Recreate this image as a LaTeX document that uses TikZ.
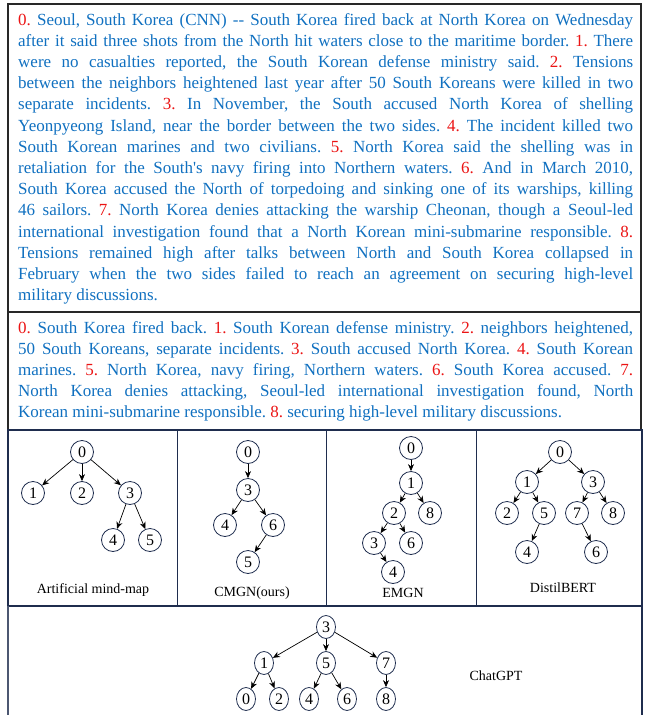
\documentclass[tikz,border=0pt]{standalone}
\usepackage{fontspec}
\setmainfont{Liberation Serif}
\usepackage{xcolor}
\usepackage{tikz}
\usetikzlibrary{shapes,arrows.meta,positioning}

\definecolor{txtblue}{RGB}{16,112,192}
\definecolor{numred}{RGB}{235,20,20}
\definecolor{navy}{RGB}{31,45,78}
\definecolor{framegray}{RGB}{40,40,40}
\newcommand{\nr}[1]{\textcolor{numred}{#1.}}
\frenchspacing

\tikzset{
    sent/.style={anchor=north west, inner sep=0pt, text width=615pt, align=justify,
        text=txtblue, font=\fontsize{17}{21.2}\selectfont},
    tnode/.style={circle, draw=navy, line width=0.8pt, inner sep=0pt, minimum size=23pt,
        font=\fontsize{16}{16}\selectfont},
    gnode/.style={ellipse, draw=navy, line width=0.8pt, inner sep=0pt, minimum width=19pt,
        minimum height=23pt, font=\fontsize{16}{16}\selectfont},
    arr/.style={-{Stealth[length=7pt,width=6pt]}, line width=0.7pt},
    caption/.style={font=\fontsize{14}{14}\selectfont}
}

\begin{document}
\begin{tikzpicture}[x=1pt,y=-1pt]
    \useasboundingbox (0,0) rectangle (645,715);

    % text boxes
    \draw[
        line width=1.3pt,
        color=framegray
    ] (8,4) rectangle (641,312);
    \draw[
        line width=1.3pt,
        color=framegray
    ] (8,312) rectangle (641,430);

    \node[sent] (story) at (18,13) {\nr{0} Seoul, South Korea (CNN) {-}{-} South Korea fired back at North Korea on Wednesday\linebreak
after it said three shots from the North hit waters close to the maritime border. \nr{1} There\linebreak
were no casualties reported, the South Korean defense ministry said. \nr{2} Tensions\linebreak
between the neighbors heightened last year after 50 South Koreans were killed in two\linebreak
separate incidents. \nr{3} In November, the South accused North Korea of shelling\linebreak
Yeonpyeong Island, near the border between the two sides. \nr{4} The incident killed two\linebreak
South Korean marines and two civilians. \nr{5} North Korea said the shelling was in\linebreak
retaliation for the South\textquotesingle s navy firing into Northern waters. \nr{6} And in March 2010,\linebreak
South Korea accused the North of torpedoing and sinking one of its warships, killing\linebreak
46 sailors. \nr{7} North Korea denies attacking the warship Cheonan, though a Seoul-led\linebreak
international investigation found that a North Korean mini-submarine responsible. \nr{8}\linebreak
Tensions remained high after talks between North and South Korea collapsed in\linebreak
February when the two sides failed to reach an agreement on securing high-level\linebreak
military discussions.};

    \node[sent] (summary) at (18,321) {\nr{0} South Korea fired back. \nr{1} South Korean defense ministry. \nr{2} neighbors heightened,\linebreak
50 South Koreans, separate incidents. \nr{3} South accused North Korea. \nr{4} South Korean\linebreak
marines. \nr{5} North Korea, navy firing, Northern waters. \nr{6} South Korea accused. \nr{7}\linebreak
North Korea denies attacking, Seoul-led international investigation found, North\linebreak
Korean mini-submarine responsible. \nr{8} securing high-level military discussions.};

    % tree table
    \draw[
        line width=1.3pt,
        color=navy
    ] (8,430) rectangle (642,606);
    \draw[line width=0.9pt, color=navy] (177,430) -- (177,606);
    \draw[line width=0.9pt, color=navy] (326,430) -- (326,606);
    \draw[line width=0.9pt, color=navy] (476,430) -- (476,606);
    \draw[line width=1.3pt, color=navy!80] (8,606) -- (8,715);
    \draw[line width=1.3pt, color=navy] (642,606) -- (642,715);

    % artificial mind-map
    \node[tnode] (m0) at (82,452) {0};
    \node[tnode] (m1) at (33,493) {1};
    \node[tnode] (m2) at (82,493) {2};
    \node[tnode] (m3) at (130,493) {3};
    \node[tnode] (m4) at (113,540) {4};
    \node[tnode] (m5) at (150,540) {5};
    \draw[arr] (m0) -- (m1);
    \draw[arr] (m0) -- (m2);
    \draw[arr] (m0) -- (m3);
    \draw[arr] (m3) -- (m4);
    \draw[arr] (m3) -- (m5);
    \node[caption] (mcap) at (93,590) {Artificial mind-map};

    % CMGN
    \node[tnode] (c0) at (248,452) {0};
    \node[tnode] (c3) at (248,490) {3};
    \node[tnode] (c4) at (225,525) {4};
    \node[tnode] (c6) at (273,525) {6};
    \node[tnode] (c5) at (248,562) {5};
    \draw[arr] (c0) -- (c3);
    \draw[arr] (c3) -- (c4);
    \draw[arr] (c3) -- (c6);
    \draw[arr] (c6) -- (c5);
    \node[caption] (ccap) at (252,593) {CMGN(ours)};

    % EMGN
    \node[tnode] (e0) at (411,448) {0};
    \node[tnode] (e1) at (411,483) {1};
    \node[tnode] (e2) at (394,513) {2};
    \node[tnode] (e8) at (430,513) {8};
    \node[tnode] (e3) at (374,543) {3};
    \node[tnode] (e6) at (411,543) {6};
    \node[tnode] (e4) at (393,572) {4};
    \draw[arr] (e0) -- (e1);
    \draw[arr] (e1) -- (e2);
    \draw[arr] (e1) -- (e8);
    \draw[arr] (e2) -- (e3);
    \draw[arr] (e2) -- (e6);
    \draw[arr] (e3) -- (e4);
    \node[caption] (ecap) at (403,593) {EMGN};

    % DistilBERT
    \node[tnode] (d0) at (560,452) {0};
    \node[tnode] (d1) at (527,482) {1};
    \node[tnode] (d3) at (593,482) {3};
    \node[tnode] (d2) at (507,513) {2};
    \node[tnode] (d5) at (544,513) {5};
    \node[tnode] (d7) at (577,513) {7};
    \node[tnode] (d8) at (613,513) {8};
    \node[tnode] (d4) at (527,552) {4};
    \node[tnode] (d6) at (596,552) {6};
    \draw[arr] (d0) -- (d1);
    \draw[arr] (d0) -- (d3);
    \draw[arr] (d1) -- (d2);
    \draw[arr] (d1) -- (d5);
    \draw[arr] (d5) -- (d4);
    \draw[arr] (d3) -- (d7);
    \draw[arr] (d3) -- (d8);
    \draw[arr] (d7) -- (d6);
    \node[caption] (dcap) at (563,588) {DistilBERT};

    % ChatGPT
    \node[gnode] (g3) at (326,627) {3};
    \node[gnode] (g1) at (264,663) {1};
    \node[gnode] (g5) at (326,663) {5};
    \node[gnode] (g7) at (386,663) {7};
    \node[gnode] (g0) at (246,699) {0};
    \node[gnode] (g2) at (279,699) {2};
    \node[gnode] (g4) at (309,699) {4};
    \node[gnode] (g6) at (347,699) {6};
    \node[gnode] (g8) at (386,699) {8};
    \draw[arr] (g3) -- (g1);
    \draw[arr] (g3) -- (g5);
    \draw[arr] (g3) -- (g7);
    \draw[arr] (g1) -- (g0);
    \draw[arr] (g1) -- (g2);
    \draw[arr] (g5) -- (g4);
    \draw[arr] (g5) -- (g6);
    \draw[arr] (g7) -- (g8);
    \node[caption] (gcap) at (496,676) {ChatGPT};
\end{tikzpicture}
\end{document}
